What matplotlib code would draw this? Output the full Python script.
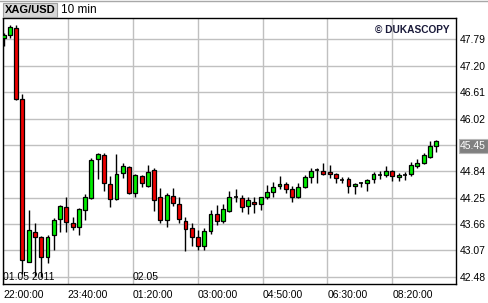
import numpy as np
import matplotlib
matplotlib.use('Agg')
import matplotlib.pyplot as plt
from matplotlib.lines import Line2D
from matplotlib.transforms import blended_transform_factory

plt.rcParams['font.family'] = ['Liberation Sans', 'DejaVu Sans']

symbol = 'XAG/USD'
period = '10 min'
copyright_text = '\u00a9 DUKASCOPY'

# 10-minute candles, XAG/USD
opens = [47.82, 47.89, 48.04, 46.46, 42.81, 43.48, 43.37, 42.92, 43.42, 43.77,
         44.04, 43.68, 43.59, 43.97, 44.24, 45.11, 45.20, 44.56, 44.22, 44.80,
         44.94, 44.35, 44.73, 44.51, 44.87, 44.26, 43.75, 44.29, 44.11, 43.73,
         43.57, 43.37, 43.17, 43.51, 43.88, 43.73, 43.95, 44.27, 44.24, 44.06,
         44.15, 44.11, 44.27, 44.38, 44.51, 44.56, 44.44, 44.27, 44.49, 44.71,
         44.87, 44.85, 44.82, 44.78, 44.64, 44.67, 44.51, 44.58, 44.58, 44.67,
         44.76, 44.76, 44.85, 44.71, 44.76, 44.78, 44.96, 45.03, 45.16, 45.40]
highs = [47.93, 48.11, 48.11, 46.57, 43.97, 43.68, 43.39, 43.42, 43.80, 44.09,
         44.27, 43.82, 44.02, 44.33, 45.14, 45.25, 45.25, 44.73, 45.23, 45.03,
         44.96, 44.78, 44.76, 44.98, 44.91, 44.47, 44.35, 44.47, 44.27, 43.82,
         43.68, 43.53, 43.57, 43.97, 44.09, 44.11, 44.40, 44.44, 44.31, 44.27,
         44.27, 44.27, 44.53, 44.60, 44.73, 44.60, 44.51, 44.58, 44.76, 44.91,
         44.91, 45.03, 44.98, 44.80, 44.71, 44.71, 44.58, 44.60, 44.67, 44.82,
         44.85, 44.96, 44.87, 44.80, 44.82, 45.05, 45.11, 45.25, 45.52, 45.54]
lows = [47.64, 47.82, 46.43, 42.54, 42.81, 42.50, 42.48, 42.79, 43.08, 43.48,
        43.48, 43.53, 43.42, 43.75, 44.22, 44.67, 44.40, 44.04, 44.20, 44.69,
        44.33, 44.27, 44.49, 44.49, 43.95, 43.68, 43.60, 44.06, 43.68, 43.06,
        43.17, 43.08, 43.08, 43.44, 43.64, 43.68, 43.93, 44.15, 43.93, 43.88,
        43.91, 43.97, 44.22, 44.27, 44.44, 44.35, 44.15, 44.24, 44.47, 44.58,
        44.58, 44.76, 44.69, 44.58, 44.58, 44.35, 44.33, 44.49, 44.40, 44.58,
        44.67, 44.71, 44.62, 44.62, 44.64, 44.73, 44.91, 45.00, 45.14, 45.27]
closes = [47.89, 48.07, 46.46, 42.86, 43.53, 43.37, 42.92, 43.37, 43.75, 44.06,
          43.71, 43.59, 44.00, 44.27, 45.09, 45.23, 44.58, 44.22, 44.78, 44.96,
          44.35, 44.76, 44.58, 44.82, 44.20, 43.75, 44.31, 44.13, 43.77, 43.55,
          43.37, 43.17, 43.51, 43.88, 43.73, 44.00, 44.27, 44.27, 44.04, 44.20,
          44.11, 44.27, 44.38, 44.49, 44.56, 44.44, 44.27, 44.49, 44.71, 44.85,
          44.87, 44.78, 44.78, 44.69, 44.64, 44.51, 44.56, 44.58, 44.64, 44.78,
          44.76, 44.85, 44.73, 44.76, 44.76, 44.98, 45.03, 45.20, 45.40, 45.52]

time_labels = ['22:00:00', '23:40:00', '01:20:00', '03:00:00',
               '04:50:00', '06:30:00', '08:20:00']
date_labels = ['01.05 2011', '02.05']
date_label_slots = [0, 2]
price_ticks = [42.48, 43.07, 43.66, 44.25, 44.84, 45.43, 46.02, 46.61, 47.20, 47.79]
price_labels = ['42.48', '43.07', '43.66', '44.25', '44.84', '45.45',
                '46.02', '46.61', '47.20', '47.79']
current_label = '45.45'

W, H = 489, 303
fig = plt.figure(figsize=(W / 100, H / 100), dpi=100)
fig.patch.set_facecolor('white')
ax = fig.add_axes([3 / W, 19 / H, 453 / W, 266 / H])

o = np.array(opens)
h = np.array(highs)
l = np.array(lows)
c = np.array(closes)
x = np.arange(len(o))

up = c > o
down = c < o
flat = c == o

ax.vlines(x, l, h, color='black', linewidth=1, zorder=2)
body_w = 0.62
ax.bar(x[up], (c - o)[up], bottom=o[up], width=body_w, color='#00ee00',
       edgecolor='black', linewidth=0.9, zorder=3)
ax.bar(x[down], (c - o)[down], bottom=o[down], width=body_w, color='#ee0000',
       edgecolor='black', linewidth=0.9, zorder=3)
ax.hlines(o[flat], x[flat] - body_w / 2, x[flat] + body_w / 2, color='black',
          linewidth=1.2, zorder=3)

x0 = -0.1
step = 10.35
xt = x0 + step * np.arange(len(time_labels))
ax.set_xlim(x0, 72.15)
ax.set_ylim(42.32, 48.27)

ax.set_xticks(xt)
ax.set_xticklabels(time_labels, fontsize=7.5)
for t in ax.get_xticklabels():
    t.set_ha('left')
ax.set_yticks(price_ticks)
ax.set_yticklabels(price_labels, fontsize=7.5)
ax.yaxis.tick_right()
ax.tick_params(axis='both', length=0)
ax.tick_params(axis='x', pad=4)
ax.tick_params(axis='y', pad=3)
for t in ax.get_yticklabels():
    if t.get_text() == current_label:
        t.set_color('white')
        t.set_bbox(dict(boxstyle='square,pad=0.15', facecolor='#808080',
                        edgecolor='#b8b8b8', linewidth=0.8))

ax.grid(True, color='#c0c0c0', linewidth=1)
ax.set_axisbelow(True)
for s in ax.spines.values():
    s.set_color('black')
    s.set_linewidth(1)

tr = blended_transform_factory(ax.transData, ax.transAxes)
for lab, slot in zip(date_labels, date_label_slots):
    ax.text(xt[slot], 0.026, lab, transform=tr, fontsize=7.5, ha='left',
            va='center', color='black', zorder=4)

ax.text(0.985, 0.975, copyright_text, transform=ax.transAxes, fontsize=7.3,
        fontweight='bold', color='#1a1a3a', ha='right', va='top', zorder=4)

fig.text(4.5 / W, 1 - 9.8 / H, symbol, fontsize=8, fontweight='bold',
         ha='left', va='center',
         bbox=dict(boxstyle='square,pad=0.18', facecolor='#d6d6d6',
                   edgecolor='#a0a0a0', linewidth=0.8))
fig.add_artist(Line2D([0, 1], [1 - 0.5 / H, 1 - 0.5 / H], color='#a8a8a8',
                      linewidth=1))
fig.text(61 / W, 1 - 9.8 / H, period, fontsize=8.5, ha='left', va='center')

fig.savefig('out.png', dpi=100)
